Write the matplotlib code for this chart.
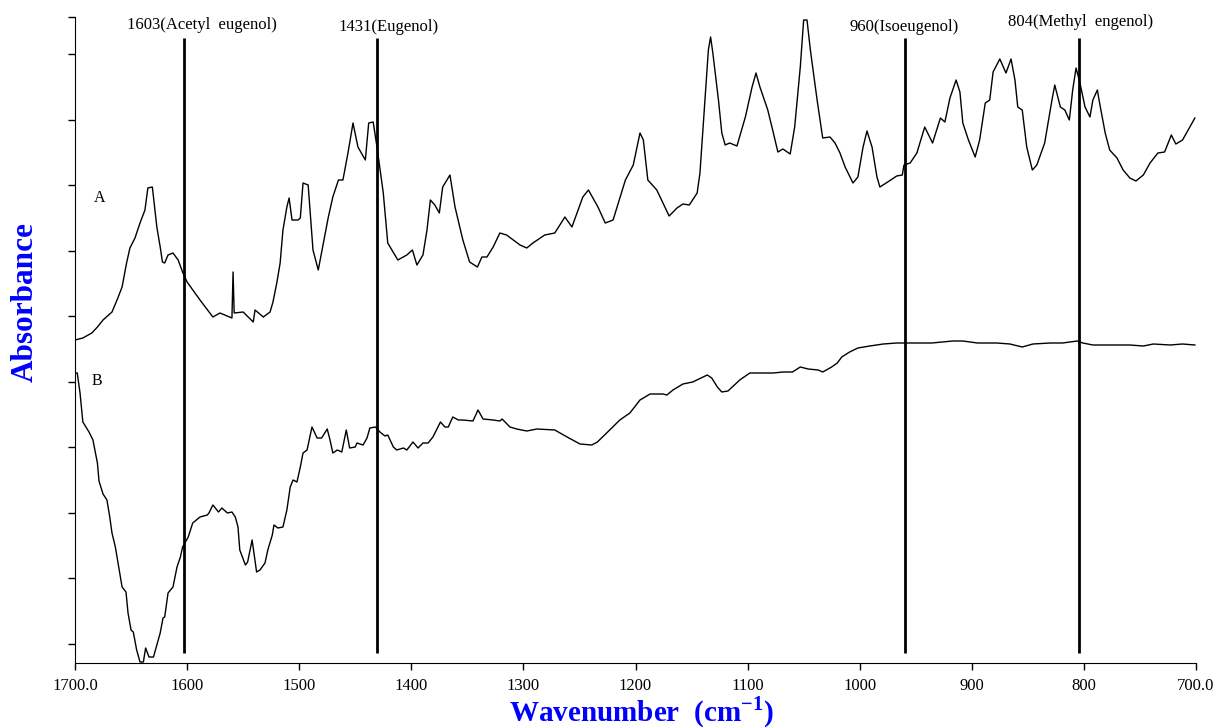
import matplotlib
matplotlib.use('Agg')
import matplotlib.pyplot as plt

plt.rcParams['font.family'] = ['Liberation Serif', 'DejaVu Serif']
plt.rcParams['mathtext.fontset'] = 'custom'
plt.rcParams['mathtext.rm'] = 'Liberation Serif'
plt.rcParams['mathtext.bf'] = 'Liberation Serif:bold'

# Spectrum A (upper trace): wavenumber (cm-1) and absorbance (a.u., offset)
wn_a = [1700, 1693, 1685, 1680, 1675, 1667, 1662.5, 1658, 1654, 1651, 1646.5, 1642,
        1637.6, 1635, 1631, 1630, 1627, 1624, 1622, 1620, 1617, 1612.6, 1608, 1603.7,
        1600, 1588.5, 1577, 1570.7, 1560, 1559, 1558, 1550, 1541, 1539.4, 1532, 1526,
        1523.4, 1520, 1517, 1514.5, 1511, 1509, 1506.4, 1501, 1499, 1496.6, 1492,
        1487.7, 1483, 1474, 1470, 1465, 1461, 1456.5, 1452, 1447.6, 1441, 1438, 1434,
        1430.6, 1425, 1421, 1412, 1404, 1399, 1395, 1389.6, 1386, 1383, 1379, 1375,
        1372, 1365.5, 1361, 1354, 1348, 1341, 1337, 1332.5, 1327, 1321, 1315, 1303,
        1297, 1291.5, 1281, 1272, 1263, 1256.7, 1247, 1242, 1233.5, 1227, 1220, 1209,
        1202, 1196, 1193, 1189, 1181, 1175.5, 1170, 1163, 1157.7, 1152, 1145, 1142.5,
        1138, 1135, 1133, 1131, 1126, 1123, 1120, 1116, 1109.5, 1102, 1096, 1092.5,
        1089, 1086, 1082, 1077, 1073, 1068.5, 1062, 1058, 1053, 1050, 1047, 1044, 1038,
        1033, 1026.5, 1022, 1017.6, 1013, 1006, 1001.6, 997, 993.5, 989, 984.6, 982,
        975, 967, 962, 960.5, 955, 949, 942, 935, 928, 924, 919.5, 914, 910.6, 908, 903,
        897, 893, 888, 884, 881, 875, 869.5, 865, 861.5, 859, 855, 851, 846, 842, 835,
        828.5, 826, 821, 817, 813, 810, 807, 803.5, 799, 794.6, 792, 788, 786, 781, 777,
        770.5, 765, 759, 753.6, 747, 741, 734, 728, 722, 718, 712, 701]
abs_a = [0.323, 0.325, 0.330, 0.336, 0.343, 0.351, 0.363, 0.376, 0.400, 0.415, 0.425,
         0.440, 0.453, 0.475, 0.476, 0.466, 0.436, 0.416, 0.401, 0.400, 0.408, 0.410,
         0.403, 0.390, 0.381, 0.363, 0.346, 0.350, 0.345, 0.391, 0.350, 0.351, 0.341,
         0.353, 0.346, 0.351, 0.361, 0.380, 0.400, 0.433, 0.456, 0.465, 0.443, 0.443,
         0.445, 0.480, 0.478, 0.413, 0.393, 0.446, 0.466, 0.483, 0.483, 0.510, 0.540,
         0.516, 0.503, 0.540, 0.541, 0.516, 0.470, 0.420, 0.403, 0.408, 0.413, 0.398,
         0.408, 0.433, 0.463, 0.458, 0.450, 0.476, 0.488, 0.456, 0.423, 0.401, 0.396,
         0.406, 0.406, 0.416, 0.430, 0.428, 0.418, 0.415, 0.420, 0.428, 0.430, 0.446,
         0.436, 0.466, 0.473, 0.456, 0.440, 0.443, 0.483, 0.498, 0.530, 0.523, 0.483,
         0.473, 0.460, 0.447, 0.455, 0.459, 0.458, 0.470, 0.490, 0.563, 0.613, 0.626,
         0.610, 0.563, 0.530, 0.518, 0.520, 0.517, 0.546, 0.576, 0.590, 0.576, 0.566,
         0.553, 0.530, 0.511, 0.514, 0.509, 0.536, 0.596, 0.643, 0.643, 0.613, 0.563,
         0.525, 0.526, 0.520, 0.510, 0.496, 0.480, 0.486, 0.516, 0.532, 0.516, 0.486,
         0.476, 0.481, 0.487, 0.488, 0.498, 0.500, 0.510, 0.536, 0.520, 0.545, 0.541,
         0.565, 0.583, 0.571, 0.540, 0.523, 0.506, 0.523, 0.560, 0.563, 0.591, 0.604,
         0.590, 0.604, 0.583, 0.556, 0.553, 0.516, 0.493, 0.498, 0.520, 0.563, 0.578,
         0.556, 0.553, 0.543, 0.573, 0.595, 0.580, 0.556, 0.546, 0.563, 0.573, 0.560,
         0.530, 0.513, 0.505, 0.493, 0.485, 0.482, 0.488, 0.500, 0.510, 0.511, 0.528,
         0.519, 0.523, 0.545]

# Spectrum B (lower trace)
wn_b = [1700, 1698, 1695.5, 1693, 1687.5, 1684, 1680, 1678.6, 1675, 1671.5, 1669, 1667,
        1664, 1661.6, 1658, 1654.5, 1652.7, 1650, 1648, 1645, 1642, 1639, 1637, 1634,
        1630, 1627, 1624, 1621.5, 1620, 1617, 1612.6, 1609, 1606, 1604, 1599, 1595,
        1588.5, 1582, 1580.5, 1577, 1572, 1569, 1564, 1560, 1557, 1554.6, 1553, 1548,
        1546, 1542, 1538, 1535, 1530.5, 1528, 1524, 1522.5, 1519, 1514.5, 1511, 1508,
        1505.5, 1502, 1499, 1496.6, 1493, 1488.6, 1484, 1480, 1475, 1472.5, 1470, 1466,
        1462, 1458, 1455, 1450, 1448.5, 1443, 1439.5, 1437, 1432, 1428, 1423.5, 1421,
        1416, 1413, 1407, 1404, 1398.5, 1394, 1389.6, 1385, 1380.7, 1374, 1370, 1367,
        1363, 1358, 1354, 1345, 1340.5, 1336, 1327, 1321, 1319, 1312, 1306, 1297, 1288,
        1272, 1261, 1249.5, 1239, 1234, 1223, 1214, 1205, 1196, 1187, 1175.5, 1172,
        1166.6, 1157.7, 1149, 1136, 1132, 1127, 1123, 1117.5, 1107, 1098, 1091, 1077,
        1068.5, 1060, 1053, 1046, 1037, 1033, 1025, 1020, 1016, 1009, 1001.6, 991, 979,
        967, 949, 935.6, 917, 908, 895, 877.6, 866, 855, 845.5, 830, 819, 806, 801, 792,
        779.5, 770.5, 759, 747, 738, 723, 712, 701]
abs_b = [0.290, 0.290, 0.270, 0.241, 0.231, 0.223, 0.200, 0.182, 0.169, 0.163, 0.146,
         0.130, 0.116, 0.100, 0.076, 0.071, 0.050, 0.033, 0.031, 0.013, 0.001, 0.001,
         0.015, 0.006, 0.006, 0.018, 0.030, 0.045, 0.046, 0.070, 0.076, 0.096, 0.106,
         0.116, 0.126, 0.140, 0.146, 0.148, 0.150, 0.158, 0.151, 0.155, 0.150, 0.151,
         0.146, 0.136, 0.113, 0.098, 0.101, 0.123, 0.091, 0.093, 0.100, 0.113, 0.128,
         0.138, 0.135, 0.136, 0.153, 0.176, 0.183, 0.181, 0.196, 0.210, 0.213, 0.236,
         0.225, 0.225, 0.234, 0.223, 0.210, 0.213, 0.211, 0.233, 0.215, 0.216, 0.220,
         0.218, 0.225, 0.235, 0.236, 0.231, 0.227, 0.228, 0.216, 0.213, 0.215, 0.213,
         0.221, 0.215, 0.220, 0.220, 0.226, 0.241, 0.236, 0.236, 0.246, 0.243, 0.243,
         0.242, 0.253, 0.244, 0.243, 0.242, 0.244, 0.236, 0.234, 0.232, 0.234, 0.233,
         0.226, 0.219, 0.218, 0.221, 0.233, 0.243, 0.250, 0.263, 0.269, 0.269, 0.268,
         0.273, 0.279, 0.281, 0.288, 0.285, 0.276, 0.271, 0.272, 0.283, 0.290, 0.290,
         0.290, 0.291, 0.291, 0.296, 0.294, 0.293, 0.291, 0.296, 0.300, 0.306, 0.311,
         0.315, 0.317, 0.319, 0.320, 0.320, 0.320, 0.322, 0.322, 0.320, 0.320, 0.319,
         0.316, 0.319, 0.320, 0.320, 0.322, 0.320, 0.318, 0.318, 0.318, 0.318, 0.317,
         0.319, 0.318, 0.319, 0.318]

# Marker bands
band_pos = [1603, 1431, 960, 804]
band_labels = ['1603(Acetyl  eugenol)', '1431(Eugenol)', '960(Isoeugenol)',
               '804(Methyl  engenol)']
band_label_x = [1587, 1420, 960.5, 802.6]
band_label_y = [0.638, 0.636, 0.636, 0.641]

xticks = [1700, 1600, 1500, 1400, 1300, 1200, 1100, 1000, 900, 800, 700]
xticklabels = ['1700.0', '1600', '1500', '1400', '1300', '1200', '1100', '1000',
               '900', '800', '700.0']
yticks = [0.019, 0.085, 0.150, 0.216, 0.281, 0.347, 0.412, 0.478, 0.543, 0.609, 0.646]

fig = plt.figure(figsize=(12.16, 7.28), dpi=100)
ax = fig.add_axes([75 / 1216, 65 / 728, 1121 / 1216, 646 / 728])

ax.plot(wn_a, abs_a, color='black', lw=1.0)
ax.plot(wn_b, abs_b, color='black', lw=1.0)

for pos, lab, lx, ly in zip(band_pos, band_labels, band_label_x, band_label_y):
    ax.vlines(pos, 0.010, 0.625, color='black', lw=2.0)
    ax.text(lx, ly, lab, ha='center', va='center', fontsize=12)

ax.text(1677.7, 0.465, 'A', ha='center', va='center', fontsize=11.5)
ax.text(1680.4, 0.282, 'B', ha='center', va='center', fontsize=11.5)

ax.set_xlim(1700, 700)
ax.set_ylim(0, 0.646)
ax.set_xticks(xticks)
ax.set_xticklabels(xticklabels, fontsize=12)
ax.set_yticks(yticks)
ax.set_yticklabels([])
ax.tick_params(axis='both', direction='out', length=5, width=1)
ax.tick_params(axis='x', pad=6)
ax.spines['top'].set_visible(False)
ax.spines['right'].set_visible(False)

fig.text(25 / 1216, 1 - 302 / 728, 'Absorbance', rotation=90, ha='center', va='center',
         fontsize=22.5, fontweight='bold', color='blue')
fig.text(641 / 1216, 7 / 728, r'Wavenumber  (cm$^{\mathbf{-1}}$)', ha='center',
         va='baseline', fontsize=21, fontweight='bold', color='blue')

fig.savefig('out.png', dpi=100)
